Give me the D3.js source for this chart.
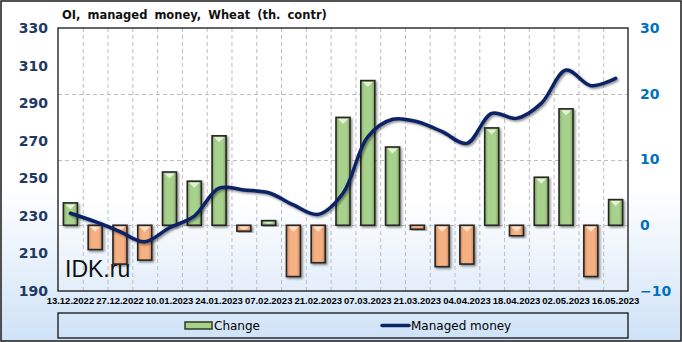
<!DOCTYPE html>
<html>
<head>
<meta charset="utf-8">
<script src="https://cdn.jsdelivr.net/npm/d3@7"></script>
<style>
  body { margin: 0; background: #fff; }
  svg { display: block; font-family: "Liberation Sans", Arial, sans-serif; }
  .grid line { stroke: #bdbdbd; stroke-dasharray: 4,3; }
  .yl text { fill: #1f3864; font-weight: bold; font-size: 14px; }
  .yr text { fill: #0070c0; font-weight: bold; font-size: 14px; }
  .xl text { fill: #000; font-weight: bold; font-size: 9.5px; font-family: "Liberation Sans", Arial, sans-serif; }
</style>
</head>
<body>
<svg id="chart" width="682" height="342"></svg>
<script>
// weekly report dates
var dates = ["13.12.2022","20.12.2022","27.12.2022","03.01.2023","10.01.2023","17.01.2023",
  "24.01.2023","31.01.2023","07.02.2023","14.02.2023","21.02.2023","28.02.2023","07.03.2023",
  "14.03.2023","21.03.2023","28.03.2023","04.04.2023","11.04.2023","18.04.2023","25.04.2023",
  "02.05.2023","09.05.2023","16.05.2023"];
// weekly change, th. contracts (right axis)
var change = [3.4, -3.7, -5.9, -5.3, 8.1, 6.7, 13.6, -0.9, 0.7, -7.8, -5.7, 16.4, 22.0,
  11.9, -0.6, -6.3, -5.9, 14.8, -1.6, 7.3, 17.7, -7.8, 3.9];
// managed money open interest, th. contracts (left axis)
var managed = [231.4, 226.9, 221.6, 216.2, 223.7, 229.9, 244.7, 243.8, 242.3, 235.8, 230.8,
  242.0, 272.1, 281.4, 280.1, 274.8, 268.6, 284.6, 281.9, 289.9, 307.6, 299.3, 303.2];
var leftTicks = [190, 210, 230, 250, 270, 290, 310, 330];
var rightTicks = [-10, 0, 10, 20, 30];

var W = 682, H = 342;
var L = 58, R = 628, T = 28, B = 291;
var svg = d3.select("#chart");
var defs = svg.append("defs");

var bg = defs.append("linearGradient").attr("id", "bg").attr("x1", 0).attr("y1", 0).attr("x2", 0).attr("y2", 1);
bg.append("stop").attr("offset", "0%").attr("stop-color", "#ffffff");
bg.append("stop").attr("offset", "55%").attr("stop-color", "#ffffff");
bg.append("stop").attr("offset", "100%").attr("stop-color", "#cfe2f7");

var pbg = defs.append("linearGradient").attr("id", "pbg").attr("x1", 0).attr("y1", 0).attr("x2", 0).attr("y2", 1);
pbg.append("stop").attr("offset", "0%").attr("stop-color", "#ffffff");
pbg.append("stop").attr("offset", "65%").attr("stop-color", "#ffffff");
pbg.append("stop").attr("offset", "100%").attr("stop-color", "#e3eefa");

function barGrad(id, edge, mid) {
  var g = defs.append("linearGradient").attr("id", id).attr("x1", 0).attr("y1", 0).attr("x2", 1).attr("y2", 0);
  g.append("stop").attr("offset", "0%").attr("stop-color", edge);
  g.append("stop").attr("offset", "25%").attr("stop-color", mid);
  g.append("stop").attr("offset", "75%").attr("stop-color", mid);
  g.append("stop").attr("offset", "100%").attr("stop-color", edge);
}
barGrad("gpos", "#7fa860", "#a9d18e");
barGrad("gneg", "#c98658", "#f5b183");

var sh = defs.append("filter").attr("id", "shadow").attr("x", "-30%").attr("y", "-30%").attr("width", "160%").attr("height", "160%");
sh.append("feDropShadow").attr("dx", 1.5).attr("dy", 1.5).attr("stdDeviation", 1.2)
  .attr("flood-color", "#000").attr("flood-opacity", 0.45);

svg.append("rect").attr("x", 1).attr("y", 1).attr("width", W - 2).attr("height", H - 2)
  .attr("fill", "url(#bg)").attr("stroke", "#1a1a1a").attr("stroke-width", 1.5);

svg.append("rect").attr("x", L).attr("y", T).attr("width", R - L).attr("height", B - T)
  .attr("fill", "url(#pbg)");

var x = d3.scaleBand().domain(dates).range([L, R]).padding(0);
var yL = d3.scaleLinear().domain([190, 330]).range([B, T]);
var yR = d3.scaleLinear().domain([-10, 30]).range([B, T]);

// grid
var grid = svg.append("g").attr("class", "grid");
grid.selectAll(".v").data(dates.slice(1)).enter().append("line")
  .attr("x1", function(d) { return x(d) + 0.5; }).attr("x2", function(d) { return x(d) + 0.5; })
  .attr("y1", T).attr("y2", B);
grid.selectAll(".h").data(rightTicks.slice(1, -1)).enter().append("line")
  .attr("x1", L).attr("x2", R)
  .attr("y1", function(d) { return Math.round(yR(d)) + 0.5; })
  .attr("y2", function(d) { return Math.round(yR(d)) + 0.5; });

// watermark
svg.append("text").attr("x", 65).attr("y", 277).attr("font-size", 23)
  .attr("font-family", "'Liberation Sans', Arial, sans-serif").attr("fill", "#111").text("IDK.ru");

// bars
var bw = 14;
var bars = svg.append("g").selectAll("g").data(change).enter().append("g")
  .attr("filter", "url(#shadow)");
bars.append("rect")
  .attr("x", function(d, i) { return x(dates[i]) + x.bandwidth() / 2 - bw / 2; })
  .attr("y", function(d) { return yR(Math.max(0, d)); })
  .attr("width", bw)
  .attr("height", function(d) { return Math.abs(yR(d) - yR(0)); })
  .attr("fill", function(d) { return d >= 0 ? "url(#gpos)" : "url(#gneg)"; })
  .attr("stroke", "#262626").attr("stroke-width", 1.6);
bars.append("path")
  .attr("d", function(d, i) {
    var cx = x(dates[i]) + x.bandwidth() / 2, top = yR(Math.max(0, d)) + 1.5;
    var h = Math.min(5, Math.abs(yR(d) - yR(0)) - 3);
    if (h <= 1) return "";
    return "M" + (cx - 5) + "," + top + "L" + (cx + 5) + "," + top + "L" + cx + "," + (top + h) + "Z";
  })
  .attr("fill", function(d) { return d >= 0 ? "#e4f2d8" : "#fde2cc"; });

// line
var line = d3.line()
  .x(function(d, i) { return x(dates[i]) + x.bandwidth() / 2; })
  .y(function(d) { return yL(d); })
  .curve(d3.curveCatmullRom.alpha(0.5));
svg.append("path").datum(managed).attr("d", line)
  .attr("fill", "none").attr("stroke", "#0b2466").attr("stroke-width", 3.5)
  .attr("stroke-linecap", "round").attr("filter", "url(#shadow)");

// frame
svg.append("rect").attr("x", L).attr("y", T).attr("width", R - L).attr("height", B - T)
  .attr("fill", "none").attr("stroke", "#000").attr("stroke-width", 1.2);

// axes
var axL = svg.append("g").attr("class", "yl").attr("transform", "translate(" + L + ",0)")
  .call(d3.axisLeft(yL).tickValues(leftTicks).tickSize(0).tickPadding(10));
axL.select(".domain").remove();
axL.selectAll("text").attr("font-family", "'DejaVu Sans', sans-serif").attr("font-size", 13);

var axR = svg.append("g").attr("class", "yr").attr("transform", "translate(" + R + ",0)")
  .call(d3.axisRight(yR).tickValues(rightTicks).tickSize(0).tickPadding(12));
axR.select(".domain").remove();
axR.selectAll("text").attr("font-family", "'DejaVu Sans', sans-serif").attr("font-size", 13);

var axX = svg.append("g").attr("class", "xl").attr("transform", "translate(0," + B + ")")
  .call(d3.axisBottom(x).tickValues(dates.filter(function(d, i) { return i % 2 === 0; }))
    .tickSize(0).tickPadding(6));
axX.select(".domain").remove();

// title
svg.append("text").attr("x", 62).attr("y", 19).attr("font-size", 11.5).attr("font-weight", "bold")
  .attr("font-family", "'DejaVu Sans', sans-serif").attr("fill", "#111")
  .attr("word-spacing", 3).text("OI, managed money, Wheat (th. contr)");

// legend
var lg = svg.append("g");
lg.append("rect").attr("x", L).attr("y", 313).attr("width", R - L).attr("height", 25)
  .attr("fill", "none").attr("stroke", "#000").attr("stroke-width", 1.2);
lg.append("rect").attr("x", 185).attr("y", 322).attr("width", 27).attr("height", 7)
  .attr("fill", "#a9d18e").attr("stroke", "#2d3b22").attr("stroke-width", 1.5);
lg.append("text").attr("x", 214).attr("y", 330).attr("font-size", 12)
  .attr("font-family", "'DejaVu Sans', sans-serif").text("Change");
lg.append("line").attr("x1", 382).attr("x2", 409).attr("y1", 325.5).attr("y2", 325.5)
  .attr("stroke", "#0b2466").attr("stroke-width", 3.5).attr("stroke-linecap", "round");
lg.append("text").attr("x", 411).attr("y", 330).attr("font-size", 12)
  .attr("font-family", "'DejaVu Sans', sans-serif").text("Managed money");
</script>
</body>
</html>
